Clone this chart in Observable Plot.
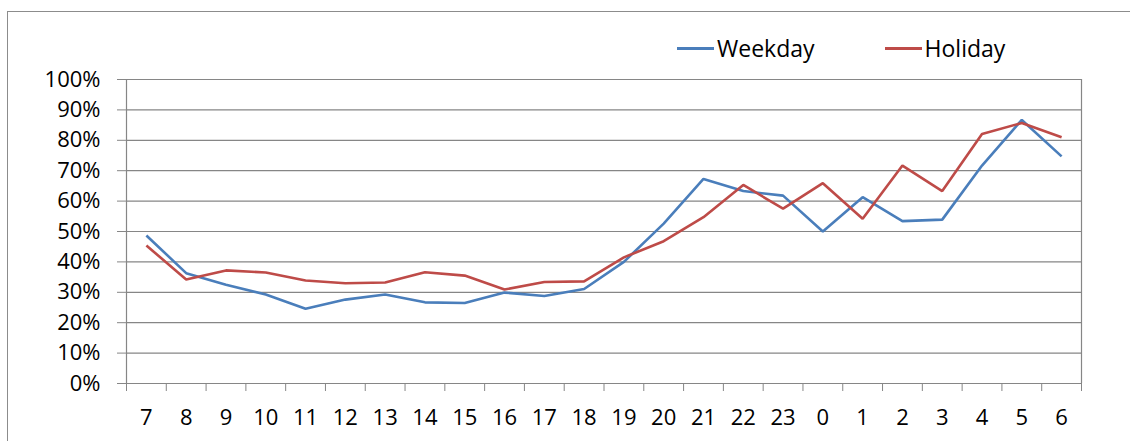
<!DOCTYPE html>
<html>
<head>
<meta charset="utf-8">
<script src="https://cdn.jsdelivr.net/npm/d3@7"></script>
<script src="https://cdn.jsdelivr.net/npm/@observablehq/plot@0.6"></script>
<style>
  html, body { margin: 0; padding: 0; background: #fff; }
  #wrap { position: relative; width: 1130px; height: 441px; overflow: hidden; font-family: "Open Sans", sans-serif; }
  #frame { position: absolute; left: 7px; top: 11px; width: 1200px; height: 600px; border-left: 1px solid #8c8c8c; border-top: 1px solid #8c8c8c; box-sizing: border-box; }
  #chart { position: absolute; left: 0; top: 0; }
  #legend { position: absolute; top: 32px; left: 677px; display: flex; align-items: center; font-size: 23px; color: #000; }
  .item { display: flex; align-items: center; }
  .swatch { width: 37px; height: 3px; margin-right: 3px; }
</style>
</head>
<body>
<div id="wrap">
  <div id="frame"></div>
  <div id="chart"></div>
  <div id="legend"></div>
</div>
<script>
const hours = ["7","8","9","10","11","12","13","14","15","16","17","18","19","20","21","22","23","0","1","2","3","4","5","6"];
const weekday = [48.7, 36.3, 32.5, 29.3, 24.6, 27.6, 29.3, 26.7, 26.5, 29.9, 28.8, 31.1, 40.0, 52.6, 67.3, 63.3, 61.8, 50.0, 61.3, 53.4, 53.9, 71.7, 86.7, 74.7];
const holiday = [45.4, 34.2, 37.2, 36.5, 33.9, 33.0, 33.2, 36.6, 35.5, 30.9, 33.4, 33.6, 41.5, 46.8, 54.7, 65.3, 57.5, 65.9, 54.2, 71.7, 63.3, 82.1, 85.7, 81.0];
const seriesNames = ["Weekday", "Holiday"];
const seriesColors = ["#4a7ebb", "#be4b48"];
const yTicks = [0, 10, 20, 30, 40, 50, 60, 70, 80, 90, 100];

const rows = [];
[weekday, holiday].forEach((vals, s) => {
  vals.forEach((v, i) => rows.push({series: seriesNames[s], i, v}));
});
const idx = hours.map((h, i) => i);
const bounds = d3.range(hours.length + 1).map(i => i - 0.5);

const chart = Plot.plot({
  width: 1130,
  height: 441,
  marginLeft: 126,
  marginRight: 49,
  marginTop: 79,
  marginBottom: 58,
  style: {fontFamily: "Open Sans, sans-serif", fontSize: "22px", color: "#000", background: "transparent"},
  x: {type: "linear", domain: [-0.5, hours.length - 0.5]},
  y: {domain: [0, 100]},
  color: {domain: seriesNames, range: seriesColors},
  marks: [
    Plot.gridY(yTicks, {stroke: "#868686", strokeOpacity: 1, strokeWidth: 1.2}),
    Plot.ruleX([-0.5, hours.length - 0.5], {stroke: "#868686", strokeWidth: 1.2}),
    Plot.axisY(yTicks, {tickFormat: d => d + "%", tickSize: 9, tickPadding: 17, stroke: "#868686", fontSize: 22, label: null}),
    Plot.axisX(bounds, {tickFormat: () => "", tickSize: 8, stroke: "#868686", label: null}),
    Plot.axisX(idx, {tickFormat: i => hours[i], tickSize: 0, tickPadding: 26, fontSize: 22, label: null}),
    Plot.line(rows, {x: "i", y: "v", z: "series", stroke: "series", strokeWidth: 2.6, strokeLinejoin: "miter", strokeLinecap: "butt"})
  ]
});
document.getElementById("chart").appendChild(chart);

const legend = document.getElementById("legend");
seriesNames.forEach((name, k) => {
  const item = document.createElement("div");
  item.className = "item";
  if (k > 0) item.style.marginLeft = "70px";
  const sw = document.createElement("div");
  sw.className = "swatch";
  sw.style.background = seriesColors[k];
  const label = document.createElement("span");
  label.textContent = name;
  item.appendChild(sw);
  item.appendChild(label);
  legend.appendChild(item);
});
</script>
</body>
</html>
